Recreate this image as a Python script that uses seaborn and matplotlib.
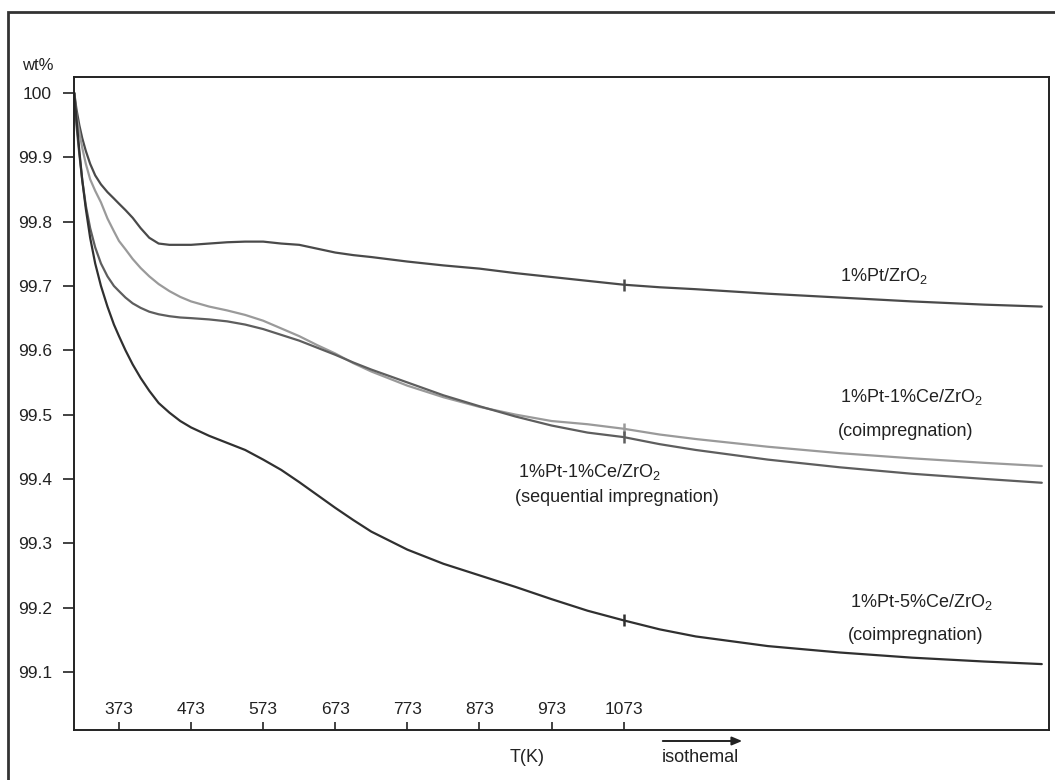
import numpy as np
import pandas as pd
import matplotlib
matplotlib.use("Agg")
import matplotlib.pyplot as plt
from matplotlib.patches import Rectangle, FancyArrowPatch
import seaborn as sns

# Temperature axis (K); beyond 1073 K the run continues isothermally
temp_k = [311, 314, 318, 322, 327, 333, 340, 348, 357, 366, 373, 382, 392, 403,
          415, 428, 443, 458, 473, 498, 523, 548, 573, 598, 623, 648, 673, 698,
          723, 773, 823, 873, 923, 973, 1023, 1073, 1123, 1173, 1273, 1373,
          1473, 1573, 1653]

wt_pt_zr = [100.0, 99.975, 99.95, 99.93, 99.91, 99.89, 99.872, 99.858, 99.846,
            99.836, 99.828, 99.818, 99.806, 99.79, 99.775, 99.766, 99.764,
            99.764, 99.764, 99.766, 99.768, 99.769, 99.769, 99.766, 99.764,
            99.758, 99.752, 99.748, 99.745, 99.738, 99.732, 99.727, 99.72,
            99.714, 99.708, 99.702, 99.698, 99.695, 99.688, 99.682, 99.676,
            99.671, 99.668]

wt_pt1ce_coimp = [100.0, 99.965, 99.94, 99.915, 99.89, 99.866, 99.848, 99.83,
                  99.805, 99.785, 99.77, 99.757, 99.742, 99.728, 99.715, 99.703,
                  99.692, 99.683, 99.676, 99.668, 99.662, 99.655, 99.646, 99.634,
                  99.622, 99.608, 99.595, 99.58, 99.567, 99.545, 99.527, 99.512,
                  99.50, 99.49, 99.485, 99.478, 99.469, 99.462, 99.45, 99.44,
                  99.432, 99.425, 99.42]

wt_pt1ce_seq = [100.0, 99.95, 99.905, 99.865, 99.825, 99.79, 99.76, 99.735,
                99.715, 99.70, 99.692, 99.682, 99.673, 99.666, 99.66, 99.656,
                99.653, 99.651, 99.65, 99.648, 99.645, 99.64, 99.633, 99.624,
                99.615, 99.604, 99.593, 99.581, 99.57, 99.55, 99.53, 99.513,
                99.497, 99.483, 99.472, 99.465, 99.454, 99.445, 99.43, 99.418,
                99.408, 99.40, 99.394]

wt_pt5ce_coimp = [100.0, 99.96, 99.91, 99.865, 99.82, 99.775, 99.735, 99.70,
                  99.668, 99.64, 99.622, 99.60, 99.578, 99.557, 99.537, 99.518,
                  99.503, 99.49, 99.48, 99.467, 99.456, 99.445, 99.43, 99.414,
                  99.395, 99.375, 99.355, 99.336, 99.318, 99.29, 99.268, 99.25,
                  99.232, 99.213, 99.195, 99.18, 99.166, 99.155, 99.14, 99.13,
                  99.122, 99.116, 99.112]

x_ticks = [373, 473, 573, 673, 773, 873, 973, 1073]
y_ticks = [100, 99.9, 99.8, 99.7, 99.6, 99.5, 99.4, 99.3, 99.2, 99.1]
y_tick_labels = ["100", "99.9", "99.8", "99.7", "99.6", "99.5", "99.4", "99.3",
                 "99.2", "99.1"]

series_names = ["Pt", "PtCe1co", "PtCe1seq", "PtCe5co"]
series_values = [wt_pt_zr, wt_pt1ce_coimp, wt_pt1ce_seq, wt_pt5ce_coimp]
series_colors = ["#4a4a4a", "#9a9a9a", "#5e5e5e", "#303030"]

df = pd.concat(
    [pd.DataFrame({"T": temp_k, "wt": v, "sample": n})
     for n, v in zip(series_names, series_values)],
    ignore_index=True,
)

sns.set_style("white")
plt.rcParams["font.family"] = ["Liberation Sans", "DejaVu Sans"]
plt.rcParams["mathtext.default"] = "regular"

W, H = 1055, 780
fig = plt.figure(figsize=(W / 100, H / 100), dpi=100)

# outer frame (left and top edges visible)
fig.patches.append(Rectangle((8 / W, -0.1), 1.2, 1 - 12 / H + 0.1,
                             transform=fig.transFigure, fill=False,
                             edgecolor="#333333", linewidth=2.0, zorder=0))

ax = fig.add_axes([74 / W, 50 / H, (1049 - 74) / W, (730 - 77) / H])

sns.lineplot(data=df, x="T", y="wt", hue="sample", palette=series_colors,
             hue_order=series_names, linewidth=1.6, legend=False, ax=ax,
             sort=True, estimator=None)

# small markers at the end of the heating ramp (1073 K)
i1073 = temp_k.index(1073)
for vals, col in zip(series_values, series_colors):
    ax.plot([temp_k[i1073]], [vals[i1073]], marker="|", markersize=9,
            markeredgewidth=1.8, color=col)

ax.set_xlim(310.6, 1663)
ax.set_ylim(99.0095, 100.025)

for s in ax.spines.values():
    s.set_color("#222222")
    s.set_linewidth(1.4)

ax.set_yticks(y_ticks)
ax.set_yticklabels(y_tick_labels)
ax.set_xticks(x_ticks)
ax.set_xticklabels([str(t) for t in x_ticks])
ax.tick_params(axis="y", direction="out", length=8, width=1.2, pad=8,
               labelsize=12.5, colors="#222222", left=True)
ax.tick_params(axis="x", direction="in", length=6, width=1.2, pad=-9,
               labelsize=12.5, colors="#222222", bottom=True)
for lab in ax.get_xticklabels():
    lab.set_verticalalignment("bottom")
ax.set_xlabel("")
ax.set_ylabel("")

# axis captions
fig.text(22 / W, 1 - 66 / H, "wt%", fontsize=12, color="#222222",
         va="center", ha="left")
fig.text(527 / W, 1 - 757 / H, "T(K)", fontsize=13, color="#222222",
         va="center", ha="center")
fig.text(662 / W, 1 - 757 / H, "isothemal", fontsize=13, color="#222222",
         va="center", ha="left")
fig.patches.append(FancyArrowPatch((660 / W, 1 - 741 / H), (745 / W, 1 - 741 / H),
                                   transform=fig.transFigure,
                                   arrowstyle="-|>,head_length=6,head_width=2.5",
                                   color="#222222", linewidth=1.4))

# curve labels (figure pixel positions)
def label(px, py, s):
    fig.text(px / W, 1 - py / H, s, fontsize=13, color="#222222",
             va="center", ha="left")

label(840, 276, "1%Pt/ZrO$_2$")
label(840, 397, "1%Pt-1%Ce/ZrO$_2$")
label(838, 431, "(coimpregnation)")
label(518, 472, "1%Pt-1%Ce/ZrO$_2$")
label(515, 498, "(sequential impregnation)")
label(850, 602, "1%Pt-5%Ce/ZrO$_2$")
label(848, 635, "(coimpregnation)")

fig.savefig("out.png", dpi=100)
